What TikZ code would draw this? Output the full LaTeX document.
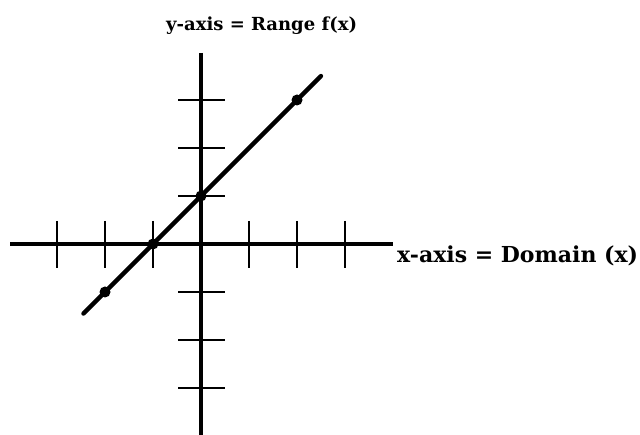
\documentclass[tikz,border=0pt]{standalone}
\usepackage{fontspec}
\setmainfont{DejaVu Serif}
\begin{document}
\begin{tikzpicture}[x=1pt,y=-1pt,
  axis/.style={line width=3.1pt},
  tickmark/.style={line width=2.9pt},
  graphline/.style={line width=4.3pt,line cap=round},
  dot/.style={circle,fill,inner sep=0pt,minimum size=11pt},
  lbl/.style={font=\bfseries\fontsize{#1}{#1}\selectfont,inner sep=0pt,anchor=base west}]
\useasboundingbox (0,0) rectangle (640,435);
% axes
\coordinate (xl) at (10,244);
\coordinate (xr) at (393,244);
\coordinate (yt) at (201,53);
\coordinate (yb) at (201,435);
\draw[axis] (xl) -- (xr);
\draw[axis] (yt) -- (yb);
% ticks
\foreach \x in {57,105,153,249,297,345} \draw[tickmark] (\x,221) -- (\x,268);
\foreach \y in {100,148,196,292,340,388} \draw[tickmark] (178,\y) -- (225,\y);
% points
\node[dot] (p1) at (105,292) {};
\node[dot] (p2) at (153,244) {};
\node[dot] (p3) at (201,196) {};
\node[dot] (p4) at (297,100) {};
\coordinate (lo) at (83.4,313.6);
\coordinate (hi) at (321,76);
\draw[graphline] (lo) -- (p1.center) -- (p2.center) -- (p3.center) -- (p4.center) -- (hi);
% labels
\node[lbl=18] (ylab) at (166,31) {y-axis = Range f(x)};
\node[lbl=22] (xlab) at (397,263) {x-axis = Domain (x)};
\end{tikzpicture}
\end{document}
